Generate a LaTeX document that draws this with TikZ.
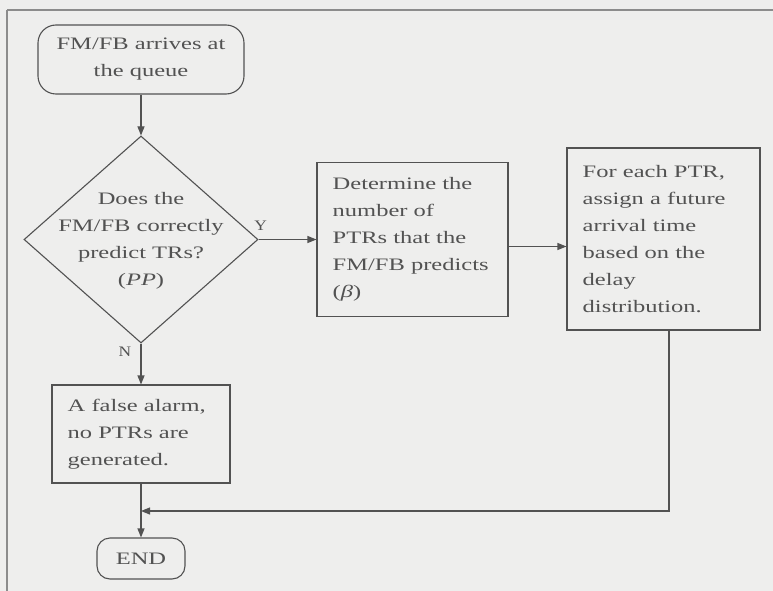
\documentclass[tikz,border=0pt]{standalone}
\usepackage{fontspec}
\setmainfont{Liberation Serif}
\usetikzlibrary{shapes.geometric,arrows.meta}
\definecolor{paper}{RGB}{238,238,237}
\definecolor{ink}{RGB}{82,82,82}
\definecolor{frame}{RGB}{140,140,140}

\begin{document}
\begin{tikzpicture}[x=1pt,y=-1pt,
  every node/.style={text=ink, font=\fontsize{17.5}{27}\selectfont},
  flow/.style={draw=ink, line width=1.1pt},
  arr/.style={flow, -{Triangle[length=9pt,width=7pt]}},
  terminal/.style={draw=ink, line width=1.1pt, rounded corners=18pt, inner sep=0pt},
  decision/.style={draw=ink, line width=1.1pt, shape=diamond, inner sep=0pt},
  stepbox/.style={draw=ink, line width=1.1pt, inner sep=0pt},
  wide/.style={xscale=1.4, inner sep=0pt},
  leftwide/.style={wide, align=left, anchor=west},
  branch/.style={xscale=1.2, font=\fontsize{14.5}{18}\selectfont}
]
% page and frame
\fill[paper] (0,0) rectangle (773,591);
\useasboundingbox (0,0) rectangle (773,591);
\draw[frame, line width=2.4pt] (7,10) -- (773,10);
\draw[frame, line width=1.3pt] (7,10) -- (7,591);

% shapes
\node[terminal, minimum width=206pt, minimum height=69pt] (start) at (141,59.5) {};
\node[decision, minimum width=234pt, minimum height=207pt] (ask) at (141,239.5) {};
\node[stepbox, minimum width=191pt, minimum height=154pt] (count) at (412.5,239.5) {};
\node[stepbox, minimum width=193pt, minimum height=182pt] (assign) at (663.5,239) {};
\node[stepbox, minimum width=178pt, minimum height=98pt] (false) at (141,434) {};
\node[terminal, rounded corners=13pt, minimum width=88pt, minimum height=41pt] (end) at (141,558.5) {};

% texts
\node[wide, align=center] (start-t) at (start.center) {FM/FB arrives at\\the queue};
\node[wide, align=center] (ask-t) at ([yshift=-1pt]ask.center)
  {Does the\\FM/FB correctly\\predict TRs?\\(\textit{PP})};
\node[leftwide] (count-t) at ([xshift=16pt]count.west)
  {Determine the\\number of\\PTRs that the\\FM/FB predicts\\(\textit{β})};
\node[leftwide] (assign-t) at ([xshift=16pt]assign.west)
  {For each PTR,\\assign a future\\arrival time\\based on the\\delay\\distribution.};
\node[leftwide] (false-t) at ([xshift=16pt]false.west)
  {A false alarm,\\no PTRs are\\generated.};
\node[wide] (end-t) at (end.center) {END};

% branch labels
\node[branch] (ylab) at ([shift={(2,-14)}]ask.east) {Y};
\node[branch] (nlab) at ([shift={(-16,8)}]ask.south) {N};

% return path
\coordinate (bend) at (669,511);
\coordinate (join) at (141,511);

% connectors
\draw[arr] (start) -- (ask);
\draw[arr] (ask.east) -- (count.west);
\draw[arr] ([yshift=-7pt]count.east) -- ([yshift=-7pt]count.east -| assign.west);
\draw[arr] (ask.south) -- (false.north);
\draw[arr] (false.south) -- (end.north);
\draw[arr] (assign.south -| bend) -- (bend) -- (join);
\end{tikzpicture}
\end{document}
